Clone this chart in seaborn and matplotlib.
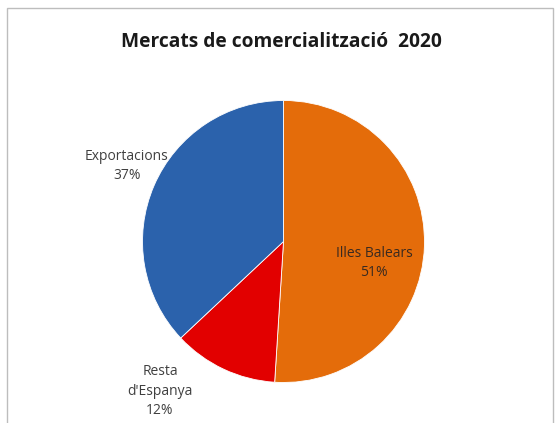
import matplotlib
matplotlib.use("Agg")
import matplotlib.pyplot as plt
import seaborn as sns
from matplotlib.patches import Rectangle

categories = ["Illes Balears", "Resta d'Espanya", "Exportacions"]
shares = [51, 12, 37]
label_texts = ["Illes Balears\n51%", "Resta\nd'Espanya\n12%", "Exportacions\n37%"]
title = "Mercats de comercialització  2020"

sns.set_theme(style="white")
plt.rcParams['font.family'] = ['Open Sans', 'DejaVu Sans']

colors = ["#E46C0A", "#E20000", "#2B62AC"]

W, H = 555, 423
fig = plt.figure(figsize=(W / 100, H / 100), dpi=100)
fig.patch.set_facecolor("white")

def fx(px):
    return px / W

def fy(py):
    return 1 - py / H

# pie axes: center (283.5, 241.5), radius 141 px
cx, cy, r = 283.5, 241.5, 141.0
ax = fig.add_axes([fx(cx - r), fy(cy + r), 2 * r / W, 2 * r / H])
ax.pie(shares, colors=colors, startangle=90, counterclock=False, radius=1,
       wedgeprops=dict(edgecolor="white", linewidth=0.6))
ax.set_xlim(-1, 1)
ax.set_ylim(-1, 1)
ax.set_aspect("auto")
ax.axis("off")

# border
fig.patches.append(Rectangle((fx(7), fy(430)), fx(553) - fx(7), fy(8) - fy(430),
                             transform=fig.transFigure, fill=False,
                             edgecolor="#BDBDBD", linewidth=1.0))

fig.text(fx(281), fy(42), title, ha="center", va="center",
         fontsize=13.8, fontweight="bold", color="#1a1a1a")

label_pos = [(374, 263), (160, 391), (127, 166)]
label_colors = ["#3a2a20", "#404040", "#404040"]
for txt, (px, py), c in zip(label_texts, label_pos, label_colors):
    fig.text(fx(px), fy(py), txt, ha="center", va="center", fontsize=10,
             color=c, linespacing=1.4)

fig.savefig("out.png", dpi=100, facecolor="white")
